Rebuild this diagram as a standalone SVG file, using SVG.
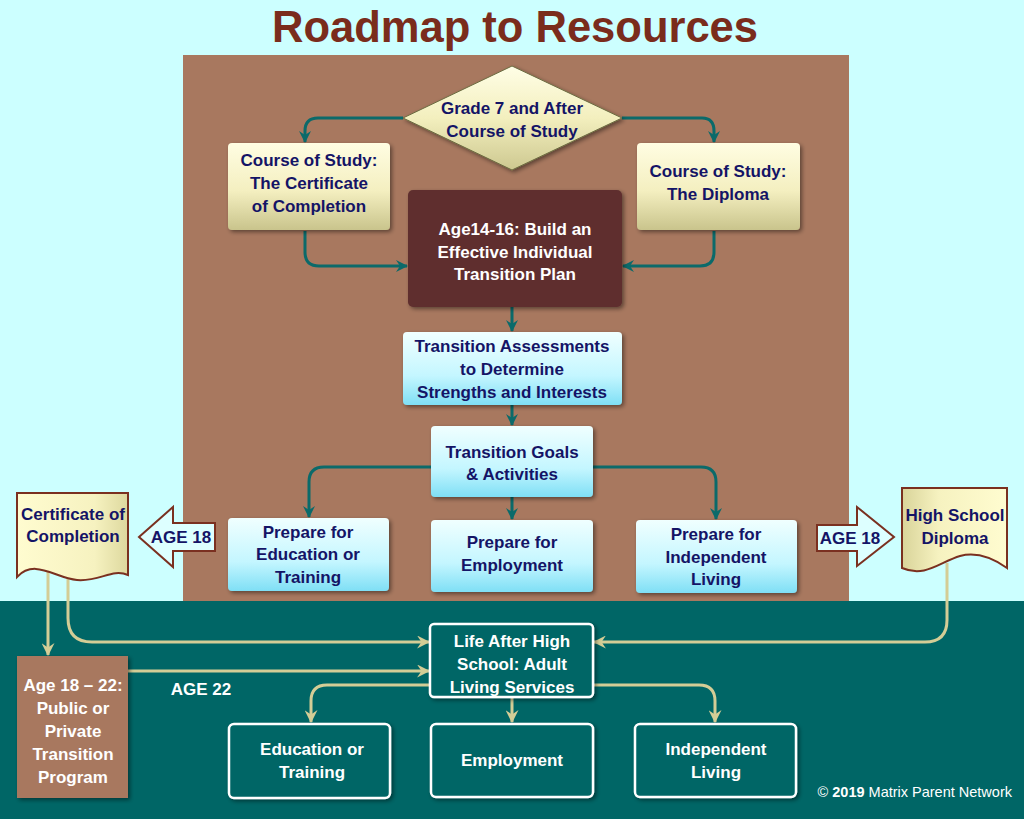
<svg xmlns="http://www.w3.org/2000/svg" width="1024" height="819" viewBox="0 0 1024 819">
<defs>
<linearGradient id="gy" x1="0" y1="0" x2="0" y2="1"><stop offset="0" stop-color="#fffde2"/><stop offset="0.55" stop-color="#f4efc0"/><stop offset="1" stop-color="#c9c48c"/></linearGradient>
<linearGradient id="gd" x1="0" y1="0" x2="0" y2="1"><stop offset="0" stop-color="#fffee6"/><stop offset="0.5" stop-color="#f3efbe"/><stop offset="1" stop-color="#cdc890"/></linearGradient>
<linearGradient id="gc" x1="0" y1="0" x2="0" y2="1"><stop offset="0" stop-color="#f0ffff"/><stop offset="0.6" stop-color="#c4f6ff"/><stop offset="1" stop-color="#7fdff5"/></linearGradient>
<linearGradient id="gdl" x1="0" y1="0" x2="1" y2="0"><stop offset="0" stop-color="#fffcd0"/><stop offset="0.7" stop-color="#f6f2c0"/><stop offset="1" stop-color="#ddd89e"/></linearGradient>
<linearGradient id="gdr" x1="0" y1="0" x2="1" y2="0"><stop offset="0" stop-color="#d9d49a"/><stop offset="0.35" stop-color="#f6f2c0"/><stop offset="1" stop-color="#fffcd0"/></linearGradient>
<filter id="sh" x="-10%" y="-10%" width="130%" height="130%"><feDropShadow dx="2" dy="2" stdDeviation="2" flood-color="#000" flood-opacity="0.45"/></filter>
<marker id="at" viewBox="0 0 12 12" refX="11" refY="6" markerWidth="12" markerHeight="12" markerUnits="userSpaceOnUse" orient="auto"><path d="M0,0 L12,6 L0,12 L4,6 Z" fill="#0b6a6a"/></marker>
<marker id="ak" viewBox="0 0 12 12" refX="11" refY="6" markerWidth="13" markerHeight="13" markerUnits="userSpaceOnUse" orient="auto"><path d="M0,0 L12,6 L0,12 L4,6 Z" fill="#d4cd96"/></marker>
<style>
.t{font-family:"Liberation Sans",Arial,sans-serif;font-weight:bold;font-size:17px;text-anchor:middle;fill:#141466}
.w{fill:#ffffff}
.ct{fill:none;stroke:#0b6a6a;stroke-width:3}
.ck{fill:none;stroke:#d4cd96;stroke-width:3}
.wb{fill:#006666;stroke:#ffffff;stroke-width:2.5}
</style>
</defs>
<rect x="0" y="0" width="1024" height="819" fill="#ccffff"/>
<rect x="183" y="55" width="666" height="547" fill="#a8785f"/>
<rect x="0" y="601" width="1024" height="218" fill="#006666"/>
<text x="515" y="42" style="font-family:'Liberation Sans',Arial,sans-serif;font-weight:bold;font-size:44px;text-anchor:middle;fill:#7a2c1c" textLength="486" lengthAdjust="spacingAndGlyphs">Roadmap to Resources</text>

<g id="connectors">
<path class="ct" d="M403,118 H318 Q305,118 305,131 V142" marker-end="url(#at)"/>
<path class="ct" d="M622,118 H702 Q714,118 714,131 V142" marker-end="url(#at)"/>
<path class="ct" d="M305,231 V252 Q305,266 319,266 H407" marker-end="url(#at)"/>
<path class="ct" d="M714,231 V252 Q714,266 700,266 H623" marker-end="url(#at)"/>
<path class="ct" d="M512,307 V331" marker-end="url(#at)"/>
<path class="ct" d="M512,405 V425" marker-end="url(#at)"/>
<path class="ct" d="M431,467 H324 Q309,467 309,482 V517" marker-end="url(#at)"/>
<path class="ct" d="M593,467 H701 Q716,467 716,482 V519" marker-end="url(#at)"/>
<path class="ct" d="M512,497 V519" marker-end="url(#at)"/>
<path class="ck" d="M48,570 V655" marker-end="url(#ak)"/>
<path class="ck" d="M68,570 V618 Q68,642 92,642 H429" marker-end="url(#ak)"/>
<path class="ck" d="M128,671 H429" marker-end="url(#ak)"/>
<path class="ck" d="M947,563 V620 Q947,642 925,642 H594" marker-end="url(#ak)"/>
<path class="ck" d="M430,685 H327 Q311,685 311,701 V722" marker-end="url(#ak)"/>
<path class="ck" d="M593,685 H699 Q715,685 715,701 V722" marker-end="url(#ak)"/>
<path class="ck" d="M512,698 V722" marker-end="url(#ak)"/>
</g>

<g id="grade7">
<polygon points="512,66 622,118 512,170 403,118" fill="url(#gd)" stroke="#6b6b40" stroke-width="1" filter="url(#sh)"/>
<text class="t" x="512" y="114">Grade 7 and After</text>
<text class="t" x="512" y="137">Course of Study</text>
</g>
<g id="cert-course">
<rect x="228" y="143" width="162" height="87" rx="4" fill="url(#gy)" filter="url(#sh)"/>
<text class="t" x="309" y="166">Course of Study:</text>
<text class="t" x="309" y="189">The Certificate</text>
<text class="t" x="309" y="212">of Completion</text>
</g>
<g id="diploma-course">
<rect x="637" y="143" width="163" height="87" rx="4" fill="url(#gy)" filter="url(#sh)"/>
<text class="t" x="718" y="177">Course of Study:</text>
<text class="t" x="718" y="200">The Diploma</text>
</g>
<g id="itp">
<rect x="408" y="190" width="214" height="117" rx="5" fill="#5e2f2f" filter="url(#sh)"/>
<text class="t w" x="515" y="235">Age14-16: Build an</text>
<text class="t w" x="515" y="258">Effective Individual</text>
<text class="t w" x="515" y="280">Transition Plan</text>
</g>
<g id="assess">
<rect x="403" y="332" width="219" height="73" rx="4" fill="url(#gc)" filter="url(#sh)"/>
<text class="t" x="512" y="352">Transition Assessments</text>
<text class="t" x="512" y="375">to Determine</text>
<text class="t" x="512" y="398">Strengths and Interests</text>
</g>
<g id="goals">
<rect x="431" y="426" width="162" height="71" rx="4" fill="url(#gc)" filter="url(#sh)"/>
<text class="t" x="512" y="458">Transition Goals</text>
<text class="t" x="512" y="480">&amp; Activities</text>
</g>
<g id="prep-edu">
<rect x="228" y="518" width="161" height="73" rx="4" fill="url(#gc)" filter="url(#sh)"/>
<text class="t" x="308" y="538">Prepare for</text>
<text class="t" x="308" y="560">Education or</text>
<text class="t" x="308" y="583">Training</text>
</g>
<g id="prep-emp">
<rect x="431" y="520" width="162" height="72" rx="4" fill="url(#gc)" filter="url(#sh)"/>
<text class="t" x="512" y="548">Prepare for</text>
<text class="t" x="512" y="571">Employment</text>
</g>
<g id="prep-ind">
<rect x="636" y="520" width="161" height="73" rx="4" fill="url(#gc)" filter="url(#sh)"/>
<text class="t" x="716" y="540">Prepare for</text>
<text class="t" x="716" y="563">Independent</text>
<text class="t" x="716" y="585">Living</text>
</g>
<g id="age18-left">
<path d="M215,523 V551 H173 V567 L139,537 L173,507 V523 Z" fill="#ddffff" stroke="#7a3020" stroke-width="2"/>
<text class="t" x="181" y="543">AGE 18</text>
</g>
<g id="age18-right">
<path d="M817,525 V551 H857 V566 L894,537 L857,507 V525 Z" fill="#ddffff" stroke="#7a3020" stroke-width="2"/>
<text class="t" x="850" y="544">AGE 18</text>
</g>
<g id="cert-doc">
<path d="M17,493 H128 V575 C112,568 100,582 77,580 C55,578 35,558 17,577 Z" fill="url(#gdl)" stroke="#7a3020" stroke-width="2"/>
<text class="t" x="73" y="520">Certificate of</text>
<text class="t" x="73" y="542">Completion</text>
</g>
<g id="hs-doc">
<path d="M902,488 H1007 V568 C990,556 975,552 960,556 C940,562 925,578 902,568 Z" fill="url(#gdr)" stroke="#7a3020" stroke-width="2"/>
<text class="t" x="955" y="521">High School</text>
<text class="t" x="955" y="544">Diploma</text>
</g>
<g id="transition-program">
<rect x="17" y="656" width="111" height="142" fill="#a8785f" filter="url(#sh)"/>
<text class="t w" x="73" y="691">Age 18 – 22:</text>
<text class="t w" x="73" y="714">Public or</text>
<text class="t w" x="73" y="737">Private</text>
<text class="t w" x="73" y="760">Transition</text>
<text class="t w" x="73" y="783">Program</text>
</g>
<text class="t w" x="201" y="695">AGE 22</text>
<g id="life-after">
<rect class="wb" x="430" y="624" width="163" height="73" rx="4" filter="url(#sh)"/>
<text class="t w" x="512" y="647">Life After High</text>
<text class="t w" x="512" y="670">School: Adult</text>
<text class="t w" x="512" y="693">Living Services</text>
</g>
<g id="edu">
<rect class="wb" x="229" y="724" width="161" height="74" rx="5" filter="url(#sh)"/>
<text class="t w" x="312" y="755">Education or</text>
<text class="t w" x="312" y="778">Training</text>
</g>
<g id="emp">
<rect class="wb" x="431" y="724" width="162" height="73" rx="5" filter="url(#sh)"/>
<text class="t w" x="512" y="766">Employment</text>
</g>
<g id="ind">
<rect class="wb" x="635" y="724" width="161" height="73" rx="5" filter="url(#sh)"/>
<text class="t w" x="716" y="755">Independent</text>
<text class="t w" x="716" y="778">Living</text>
</g>
<text x="1012" y="797" style="font-family:'Liberation Sans',Arial,sans-serif;font-size:14.5px;text-anchor:end;fill:#ffffff">© <tspan font-weight="bold">2019</tspan> Matrix Parent Network</text>
</svg>
